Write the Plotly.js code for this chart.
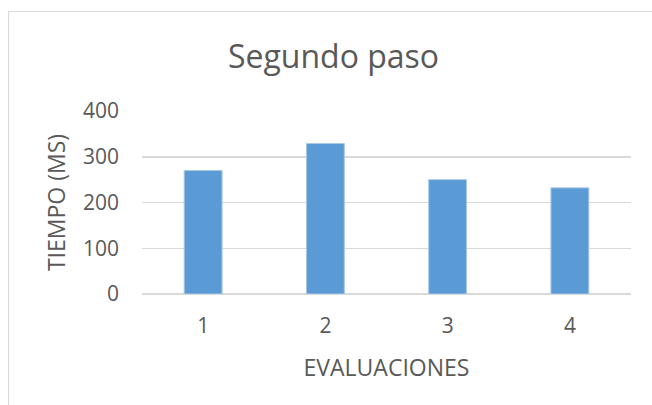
<!DOCTYPE html>
<html>
<head>
<meta charset="utf-8">
<script src="https://cdn.plot.ly/plotly-3.0.1.min.js"></script>
<style>
  html, body { margin: 0; padding: 0; background: #ffffff; overflow: hidden; }
  #wrap { position: relative; width: 652px; height: 405px; overflow: hidden; }
  #chart { position: absolute; left: 0; top: 0; width: 652px; height: 405px; }
  #frame { position: absolute; left: 8px; top: 11px; width: 700px; height: 450px;
           border: 1.5px solid #d9d9d9; pointer-events: none; box-sizing: border-box; }
</style>
</head>
<body>
<div id="wrap">
  <div id="chart"></div>
  <div id="frame"></div>
</div>
<script>
const categories = ['1', '2', '3', '4'];
const tiempos = [270, 329, 250, 232];
const titleText = 'Segundo paso';
const xTitle = 'EVALUACIONES';
const yTitle = 'TIEMPO (MS)';
const yTicks = [0, 100, 200, 300, 400];

const FONT = '"Open Sans", "Liberation Sans", sans-serif';
const TXT = '#595959';

const trace = {
  type: 'bar',
  x: categories,
  y: tiempos,
  marker: { color: '#5b9bd5', line: { color: '#a9c8ea', width: 1 } },
  hoverinfo: 'x+y'
};

const layout = {
  width: 652,
  height: 405,
  margin: { l: 142, r: 21, t: 111, b: 111 },
  paper_bgcolor: '#ffffff',
  plot_bgcolor: '#ffffff',
  showlegend: false,
  bargap: 0.69,
  font: { family: FONT, color: TXT, size: 21 },
  title: {
    text: titleText,
    font: { family: FONT, size: 32, color: TXT },
    xref: 'container', x: 333.5 / 652, xanchor: 'center',
    yref: 'container', y: 1 - 57 / 405, yanchor: 'middle'
  },
  xaxis: {
    type: 'category',
    title: { text: xTitle, font: { family: FONT, size: 23, color: TXT }, standoff: 21 },
    tickfont: { family: FONT, size: 21, color: TXT },
    ticks: '',
    ticklabelstandoff: 17,
    showgrid: false,
    showline: false,
    zeroline: false,
    automargin: false
  },
  yaxis: {
    range: [0, 400],
    tickvals: yTicks,
    ticktext: yTicks.map(String),
    title: { text: yTitle, font: { family: FONT, size: 23, color: TXT }, standoff: 10 },
    tickfont: { family: FONT, size: 21, color: TXT },
    ticks: '',
    ticklabelstandoff: 22,
    showgrid: true,
    gridcolor: '#d9d9d9',
    gridwidth: 1.5,
    zeroline: true,
    zerolinecolor: '#d9d9d9',
    zerolinewidth: 1.5,
    showline: false,
    automargin: false
  }
};

Plotly.newPlot('chart', [trace], layout, { displayModeBar: false, staticPlot: true });
</script>
</body>
</html>
